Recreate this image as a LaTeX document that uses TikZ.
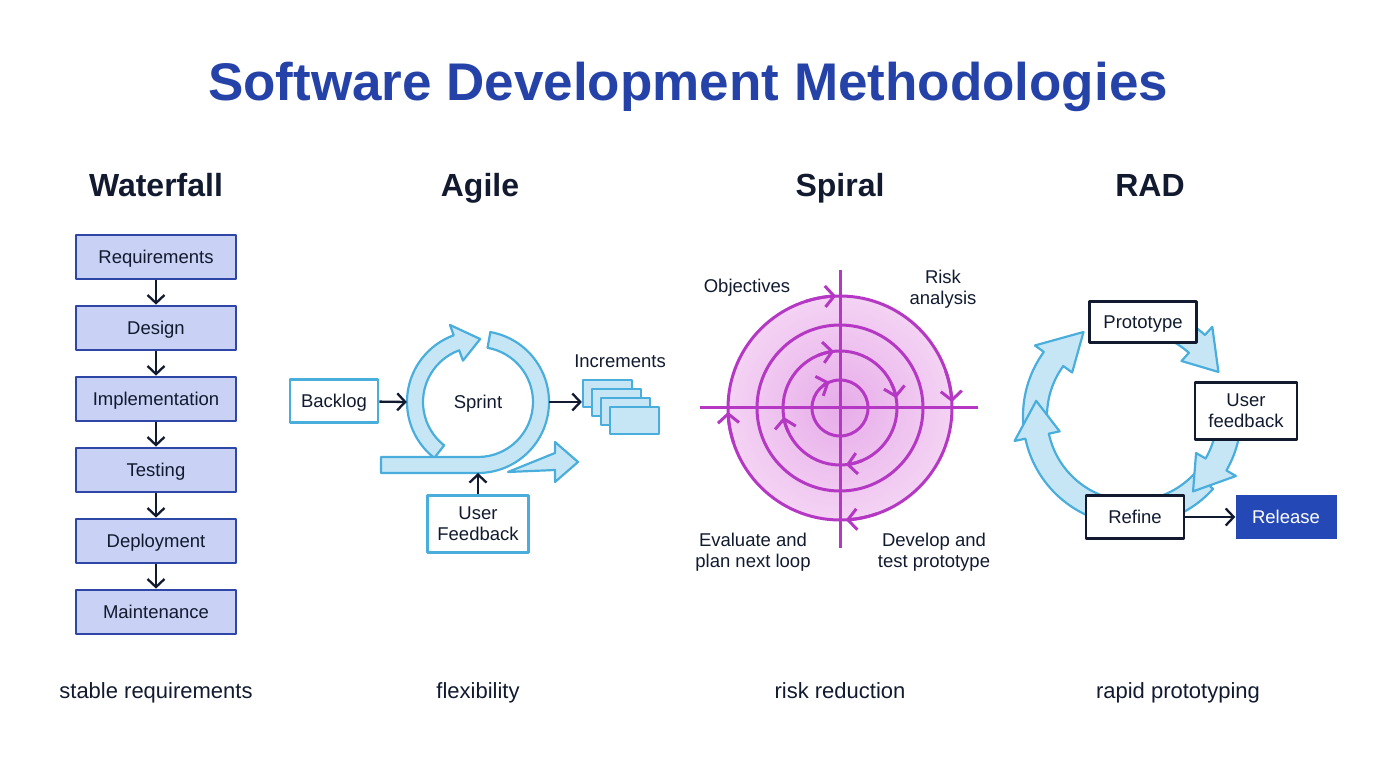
\documentclass[tikz,border=0pt]{standalone}
\usepackage{fontspec}
\setmainfont{Liberation Sans}
\usetikzlibrary{arrows.meta,calc,positioning}
\definecolor{titleblue}{HTML}{2442A8}
\definecolor{ink}{HTML}{111A2E}
\definecolor{wfill}{HTML}{C9D1F5}
\definecolor{wline}{HTML}{2E46A6}
\definecolor{afill}{HTML}{C6E6F6}
\definecolor{aline}{HTML}{4AAEDD}
\definecolor{sline}{HTML}{B438C4}
\definecolor{spin}{HTML}{E7ACE9}
\definecolor{spout}{HTML}{F4D3F4}
\definecolor{relblue}{HTML}{2448B5}
\begin{document}
\begin{tikzpicture}[x=1pt,y=1pt,line join=round,
	font=\fontsize{18.5}{21}\selectfont,
	mid/.style={text height=13pt,text depth=0pt},
	wbox/.style={draw=wline,fill=wfill,line width=2.8pt,minimum width=160pt,
		minimum height=44pt,inner sep=0pt,text=ink,mid},
	abox/.style={draw=aline,fill=white,line width=2.8pt,inner sep=0pt,
		align=center,text=ink},
	rbox/.style={draw=ink,fill=white,line width=2.8pt,inner sep=0pt,
		align=center,text=ink},
	arr/.style={draw=ink,line width=2.3pt,-{Straight Barb[length=8pt,width=17pt]}},
	band/.style={draw=aline,fill=afill,line width=2.2pt},
	spir/.style={draw=sline,line width=3pt},
	head/.style={font=\fontsize{32}{36}\selectfont\bfseries,text=ink,anchor=base},
	note/.style={font=\fontsize{22}{26}\selectfont,text=ink,anchor=base}]
	% ring arrow: centre, inner r, outer r, start, tip, head (deg)
	\def\ringarr#1#2#3#4#5#6{\draw[band] ($(#1)+({#4}:{#3})$)
		arc[start angle={#4},end angle={#5+#6},radius={#3}]
		-- ($(#1)+({#5+#6}:{#3+11})$) -- ($(#1)+({#5}:{(#2+#3)/2})$)
		-- ($(#1)+({#5+#6}:{#2-11})$) -- ($(#1)+({#5+#6}:{#2})$)
		arc[start angle={#5+#6},end angle={#4},radius={#2}] -- cycle;}
	\useasboundingbox (0,0) rectangle (1376,768);
	
	\node[font=\fontsize{53}{60}\selectfont\bfseries,text=titleblue,anchor=base] (title)
	at (688,667) {Software Development Methodologies};
	\node[head] (hwf) at (156,571) {Waterfall};
	\node[head] (hag) at (480,571) {Agile};
	\node[head] (hsp) at (840,571) {Spiral};
	\node[head] (hrad) at (1150,571) {RAD};
	\node[note] (nwf) at (156,69) {stable requirements};
	\node[note] (nag) at (478,69) {flexibility};
	\node[note] (nsp) at (840,69) {risk reduction};
	\node[note] (nrad) at (1178,69) {rapid prototyping};
	
	% waterfall
	\node[wbox] (req) at (156,511) {Requirements};
	\node[wbox,below=24.2pt of req] (des) {Design};
	\node[wbox,below=24.2pt of des] (imp) {Implementation};
	\node[wbox,below=24.2pt of imp] (tst) {Testing};
	\node[wbox,below=24.2pt of tst] (dep) {Deployment};
	\node[wbox,below=24.2pt of dep] (mnt) {Maintenance};
	\foreach \a/\b in {req/des,des/imp,imp/tst,tst/dep,dep/mnt}
	\draw[arr] (\a) -- (\b);
	
	% agile
	\coordinate (ac) at (478,366);
	\draw[band] (508,296) -- (555,298) -- (555,286) -- (578,306)
	-- (555,326) -- (555,315) -- cycle;
	\ringarr{ac}{55}{71}{232}{88}{22}
	\draw[band] ($(ac)+(80:71)$) arc[start angle=80,end angle=-90,radius=71]
	-- (381,295) -- (381,311) -- ($(ac)+(-90:55)$)
	arc[start angle=-90,end angle=80,radius=55] -- cycle;
	\node[circle,minimum size=142pt,inner sep=0pt,text=ink,mid] (sprint) at (ac) {Sprint};
	\node[abox,mid,minimum width=88pt,minimum height=43pt] (backlog) at (334,367) {Backlog};
	\node[abox,minimum width=101pt,minimum height=57pt] (ufb) at (478,244)
	{User\\Feedback};
	\coordinate (bandlow) at (478,295);
	\foreach \i in {0,...,3}
	\node[draw=aline,fill=afill,line width=2.2pt,minimum width=49pt,
	minimum height=27pt,inner sep=0pt] (inc\i) at (607.5+9*\i,374.5-9*\i) {};
	\node[text=ink] (inclbl) at (620,407) {Increments};
	\draw[arr] (backlog) -- (sprint.west);
	\draw[arr] (sprint.east) -- (sprint.east -| inc0.west);
	\draw[arr] (ufb) -- (bandlow);
	
	% spiral
	\coordinate (sc) at (840,360);
	\shade[inner color=spin,outer color=spout] (sc) circle[radius=112];
	\foreach \r in {112,83,57,28}
	\draw[spir] (sc) circle[radius=\r];
	\draw[spir] (700,360) -- (978,360);
	\draw[spir] (840,220) -- (840,498);
	\foreach \r/\t in {112/92,112/3,112/-87,112/182,57/96,57/10,57/-84,57/189,28/112}
	\draw[spir,-{Straight Barb[length=9pt,width=21pt]}]
	($(sc)+({\t+16}:\r)$) arc[start angle=\t+16,end angle=\t,radius=\r];
	\node[text=ink] (obj) at (747,480) {Objectives};
	\node[text=ink,align=center] (risk) at (943,479) {Risk\\analysis};
	\node[text=ink,align=center] (eval) at (753,216) {Evaluate and\\plan next loop};
	\node[text=ink,align=center] (devt) at (934,216) {Develop and\\test prototype};
	
	% RAD
	\coordinate (rc) at (1132,352);
	\ringarr{rc}{85}{109}{185}{120}{24}
	\ringarr{rc}{85}{109}{318}{171}{21}
	\ringarr{rc}{85}{109}{10}{-51}{21}
	\ringarr{rc}{85}{109}{100}{27}{21}
	\node[rbox,mid,minimum width=107pt,minimum height=41pt] (proto) at (1143,446) {Prototype};
	\node[rbox,minimum width=102pt,minimum height=57pt] (ufr) at (1246,357)
	{User\\feedback};
	\node[rbox,mid,minimum width=98pt,minimum height=43pt] (refine) at (1135,251) {Refine};
	\node[fill=relblue,text=white,mid,minimum width=101pt,minimum height=44pt,
	inner sep=0pt] (release) at (1286,251) {Release};
	\draw[arr] (refine) -- (release);
\end{tikzpicture}
\end{document}
